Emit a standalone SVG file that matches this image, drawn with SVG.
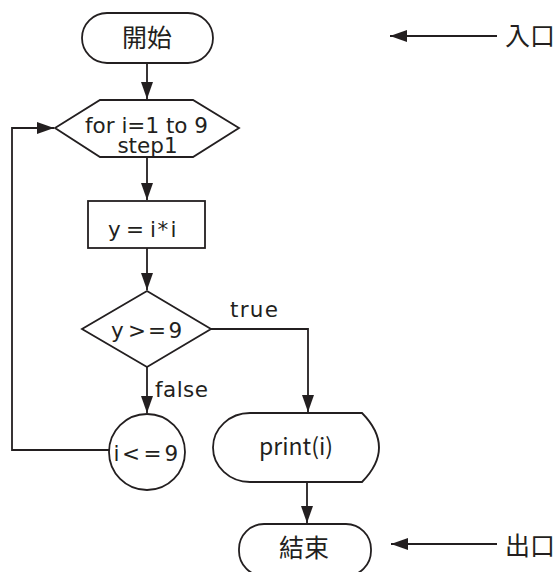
<svg xmlns="http://www.w3.org/2000/svg" width="558" height="572" viewBox="0 0 558 572">
<style>
.s{fill:#fff;stroke:#231f20;stroke-width:1.8}
.l{fill:none;stroke:#231f20;stroke-width:1.8}
.t{font-family:"DejaVu Sans",sans-serif;font-size:21.5px;fill:#231f20}
.c{font-family:"Noto Sans CJK TC","Noto Sans CJK JP",sans-serif;font-size:25px;fill:#231f20}
.p{font-family:"Noto Sans CJK TC","Noto Sans",sans-serif;font-size:23px;fill:#231f20;text-anchor:middle}
</style>
<defs>
<marker id="ah" markerUnits="userSpaceOnUse" markerWidth="17" markerHeight="12" refX="17" refY="6" orient="auto">
<path d="M0,0 L17,6 L0,12 z" fill="#231f20"/>
</marker>
</defs>
<rect width="558" height="572" fill="#fff"/>
<g id="connectors">
<line class="l" x1="147" y1="63" x2="147" y2="99" marker-end="url(#ah)"/>
<line class="l" x1="147" y1="157" x2="147" y2="200" marker-end="url(#ah)"/>
<line class="l" x1="147" y1="248" x2="147" y2="290" marker-end="url(#ah)"/>
<line class="l" x1="147" y1="367" x2="147" y2="413" marker-end="url(#ah)"/>
<polyline class="l" points="211,329 308,329 308,412" marker-end="url(#ah)"/>
<line class="l" x1="307" y1="482" x2="307" y2="523" marker-end="url(#ah)"/>
<polyline class="l" points="109,450 12,450 12,128 54,128" marker-end="url(#ah)"/>
<line class="l" x1="497" y1="36" x2="390" y2="36" marker-end="url(#ah)"/>
<line class="l" x1="497" y1="544" x2="391" y2="544" marker-end="url(#ah)"/>
<text class="t" x="230" y="317" textLength="48" lengthAdjust="spacing">true</text>
<text class="t" x="155" y="397" textLength="53" lengthAdjust="spacing">false</text>
</g>
<g id="start">
<rect class="s" x="82" y="13" width="131" height="50" rx="25"/>
<text class="c" x="147" y="47" text-anchor="middle">開始</text>
</g>
<g id="loop">
<polygon class="s" points="100,100 193,100 239,128 193,157 100,157 55,128"/>
<text class="t" text-anchor="middle"><tspan x="146.5" y="132.5">for i=1 to 9</tspan><tspan x="147.5" y="153">step1</tspan></text>
</g>
<g id="assign">
<rect class="s" x="88" y="201" width="117" height="47"/>
<text class="t" x="108 126 150 157.5 170.5" y="237">y=i*i</text>
</g>
<g id="decision">
<polygon class="s" points="147,291 211,329 147,367 82,329"/>
<text class="t" x="111 128 148 168.5" y="338">y&gt;=9</text>
</g>
<g id="cond">
<circle class="s" cx="147" cy="452" r="38"/>
<text class="t" x="113.5 122 143.5 164.5" y="461">i&lt;=9</text>
</g>
<g id="print">
<path class="s" d="M250,413 L362,413 Q396,447.5 362,482 L250,482 A37,34.5 0 0 1 250,413 z"/>
<text class="p" x="296" y="455">print(i)</text>
</g>
<g id="end">
<rect class="s" x="239" y="524" width="132" height="52" rx="25"/>
<text class="c" x="304" y="557" text-anchor="middle">結束</text>
</g>
<g id="entry-label">
<text class="c" x="505" y="45">入口</text>
</g>
<g id="exit-label">
<text class="c" x="505" y="555">出口</text>
</g>
</svg>
